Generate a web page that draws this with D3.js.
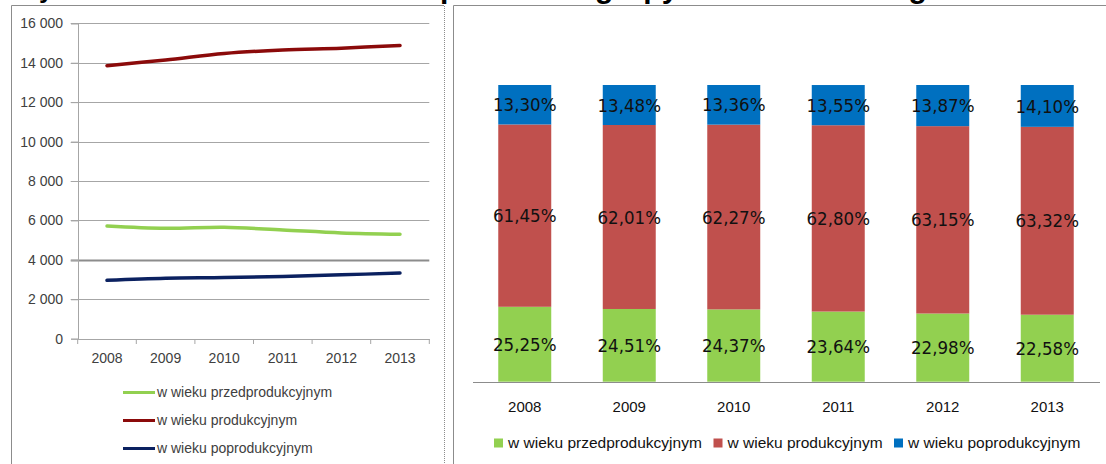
<!DOCTYPE html>
<html lang="pl">
	<head>
		<meta charset="utf-8">
		<title>Ludność w wieku ekonomicznym</title>
		<script src="https://d3js.org/d3.v7.min.js" charset="utf-8"></script>
		<style type="text/css">
			body { margin: 0; background: #fff; }
			svg { display: block; font-family: "Liberation Sans", Arial, sans-serif; }
		</style>
	</head>
	<body>
		<svg width="1106" height="464"></svg>
		<script>

			//Data
			var years = [2008, 2009, 2010, 2011, 2012, 2013];
			var seriesNames = ["w wieku przedprodukcyjnym", "w wieku produkcyjnym", "w wieku poprodukcyjnym"];

			//Population (left chart)
			var przed = [5718, 5600, 5655, 5515, 5367, 5300];
			var prod  = [13851, 14140, 14470, 14650, 14740, 14880];
			var post  = [2962, 3065, 3100, 3161, 3240, 3330];

			//Shares in % (right chart)
			var shPrzed = [25.25, 24.51, 24.37, 23.64, 22.98, 22.58];
			var shProd  = [61.45, 62.01, 62.27, 62.80, 63.15, 63.32];
			var shPost  = [13.30, 13.48, 13.36, 13.55, 13.87, 14.10];

			var yTicks = [0, 2000, 4000, 6000, 8000, 10000, 12000, 14000, 16000];

			var lineColors = ["#92d050", "#8b0a0a", "#0b2160"];
			var barColors = ["#92d050", "#c0504d", "#0070c0"];

			var svg = d3.select("svg");

			var fmtPl = function(v) { return d3.format(",")(v).replace(/,/g, " "); };
			var fmtPct = function(v) { return v.toFixed(2).replace(".", ",") + "%"; };

			//Titles (cut off above the picture, only descenders show)
			svg.append("text")
				.attr("x", 15).attr("y", -2)
				.attr("font-weight", "bold").attr("font-size", 26)
				.text("Wykres 1. Liczba ludności");
			svg.append("text")
				.attr("x", 440).attr("y", -2)
				.attr("font-weight", "bold").attr("font-size", 30)
				.text("podział na grupy ekonomiczne wg wieku");

			//Panel frames
			svg.append("path")
				.attr("d", "M11.5,464V5.5H444.5V464")
				.attr("fill", "none").attr("stroke", "#8c8c8c");
			svg.append("line")
				.attr("x1", 444.5).attr("x2", 444.5).attr("y1", 5).attr("y2", 464)
				.attr("stroke", "#fff").attr("stroke-dasharray", "1,1");
			svg.append("path")
				.attr("d", "M453.5,464V5.5H1106")
				.attr("fill", "none").attr("stroke", "#8c8c8c");

			// ---------- LEFT: line chart ----------
			var xL = d3.scaleBand().domain(years).range([77.7, 429.3]);
			var yL = d3.scaleLinear().domain([0, 16000]).range([338.7, 23.3]);

			var left = svg.append("g");

			left.selectAll(".grid")
				.data(yTicks.slice(1))
				.enter()
				.append("line")
				.attr("x1", 70.7).attr("x2", 429.3)
				.attr("y1", function(d) { return Math.round(yL(d)) + 0.5; })
				.attr("y2", function(d) { return Math.round(yL(d)) + 0.5; })
				.attr("stroke", function(d) { return d === 4000 ? "#8c8c8c" : "#a6a6a6"; })
				.attr("stroke-width", function(d) { return d === 4000 ? 2 : 1; });

			//y axis
			var yAxisL = left.append("g")
				.attr("transform", "translate(78,0)")
				.call(d3.axisLeft(yL).tickValues(yTicks).tickSize(7).tickPadding(8).tickFormat(fmtPl));
			yAxisL.select(".domain").attr("stroke", "#a6a6a6");
			yAxisL.selectAll(".tick line").attr("stroke", "#a6a6a6");
			yAxisL.selectAll("text").attr("font-size", 14).attr("fill", "#404040")
				.attr("font-family", "Liberation Sans, Arial, sans-serif");

			//x axis
			var xAxisL = left.append("g")
				.attr("transform", "translate(0,339)")
				.call(d3.axisBottom(xL).tickSize(0).tickPadding(14));
			xAxisL.select(".domain").attr("stroke", "#a6a6a6");
			xAxisL.selectAll("text").attr("font-size", 14).attr("fill", "#404040")
				.attr("font-family", "Liberation Sans, Arial, sans-serif");
			left.selectAll(".xtick")
				.data(years.concat(["end"]))
				.enter()
				.append("line")
				.attr("x1", function(d, i) { return i < years.length ? xL(d) : xL.range()[1]; })
				.attr("x2", function(d, i) { return i < years.length ? xL(d) : xL.range()[1]; })
				.attr("y1", 339).attr("y2", 344)
				.attr("stroke", "#a6a6a6");

			var lineGen = d3.line()
				.x(function(d, i) { return xL(years[i]) + xL.bandwidth() / 2; })
				.y(function(d) { return yL(d); })
				.curve(d3.curveCatmullRom);

			left.selectAll(".series")
				.data([przed, prod, post])
				.enter()
				.append("path")
				.attr("d", lineGen)
				.attr("fill", "none")
				.attr("stroke", function(d, i) { return lineColors[i]; })
				.attr("stroke-width", 3.5)
				.attr("stroke-linecap", "round");

			//legend
			var legL = left.selectAll(".legL")
				.data(seriesNames)
				.enter()
				.append("g")
				.attr("transform", function(d, i) { return "translate(123," + [392.5, 420.5, 448.5][i] + ")"; });
			legL.append("line")
				.attr("x1", 0).attr("x2", 32)
				.attr("stroke", function(d, i) { return lineColors[i]; })
				.attr("stroke-width", 3);
			legL.append("text")
				.attr("x", 34).attr("dy", "0.35em")
				.attr("font-size", 14).attr("fill", "#404040")
				.text(function(d) { return d; });

			// ---------- RIGHT: 100% stacked bars ----------
			var xR = d3.scaleBand().domain(years).range([472.5, 1099.5])
				.paddingInner(0.493).paddingOuter(0.2465);
			var yR = d3.scaleLinear().domain([0, 100]).range([381.7, 85]);

			var table = years.map(function(y, i) {
				return { year: y, a: shPrzed[i], b: shProd[i], c: shPost[i] };
			});
			var stack = d3.stack().keys(["a", "b", "c"])(table);

			var right = svg.append("g");

			var layers = right.selectAll(".layer")
				.data(stack)
				.enter()
				.append("g")
				.attr("fill", function(d, i) { return barColors[i]; });

			layers.selectAll("rect")
				.data(function(d) { return d; })
				.enter()
				.append("rect")
				.attr("x", function(d) { return xR(d.data.year); })
				.attr("width", xR.bandwidth())
				.attr("y", function(d) { return yR(d[1]); })
				.attr("height", function(d) { return yR(d[0]) - yR(d[1]); });

			layers.selectAll("text")
				.data(function(d) { return d.map(function(p) { return { p: p, key: d.key }; }); })
				.enter()
				.append("text")
				.attr("x", function(d) { return xR(d.p.data.year) + xR.bandwidth() / 2; })
				.attr("y", function(d) { return (yR(d.p[0]) + yR(d.p[1])) / 2; })
				.attr("dy", "0.36em")
				.attr("text-anchor", "middle")
				.attr("font-family", "Liberation Sans Narrow, DejaVu Sans Condensed, sans-serif")
				.attr("font-size", 18.5)
				.attr("fill", "#111")
				.text(function(d) { return fmtPct(d.p.data[d.key]); });

			var xAxisR = right.append("g")
				.attr("transform", "translate(0,382)")
				.call(d3.axisBottom(xR).tickSize(0).tickPadding(19));
			xAxisR.select(".domain").attr("stroke", "#8c8c8c");
			xAxisR.selectAll("text").attr("font-size", 15).attr("fill", "#111")
				.attr("font-family", "Liberation Sans, Arial, sans-serif");

			//legend
			var legX = [494, 713.5, 894];
			var legR = right.selectAll(".legR")
				.data(seriesNames)
				.enter()
				.append("g")
				.attr("transform", function(d, i) { return "translate(" + legX[i] + ",443)"; });
			legR.append("rect")
				.attr("x", 0).attr("y", -4.5).attr("width", 9).attr("height", 9)
				.attr("fill", function(d, i) { return barColors[i]; });
			legR.append("text")
				.attr("x", 14).attr("dy", "0.35em")
				.attr("font-size", 15.5).attr("fill", "#111")
				.text(function(d) { return d; });

		</script>
	</body>
</html>
